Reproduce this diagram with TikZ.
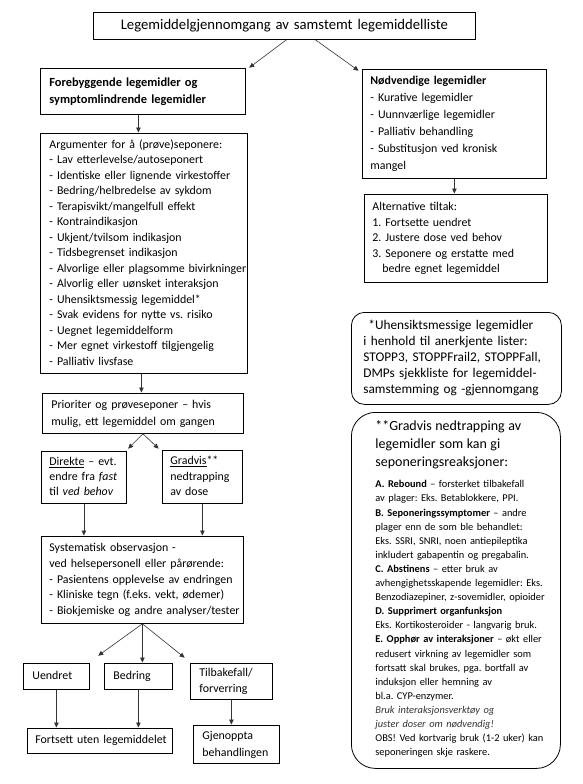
\documentclass[tikz,border=0pt]{standalone}
\usepackage{fontspec}
\setmainfont{Carlito}
\usetikzlibrary{arrows.meta}
\newcommand{\boxlines}[2]{\begin{tabular}{@{\hspace{#1pt}}l@{}}#2\end{tabular}}
\tikzset{
  bx/.style={draw, line width=0.8pt, anchor=north west, inner xsep=0pt, inner ysep=0pt, align=left},
  bodyf/.style={font=\fontsize{11.9}{#1}\selectfont},
  arr/.style={-{Triangle[length=5pt,width=4.5pt]}, line width=0.6pt, draw=black!80, shorten >=0.5pt},
}
\begin{document}
\frenchspacing
\begin{tikzpicture}[x=1pt,y=-1pt]
\fill[white] (0,0) rectangle (583,784);
\useasboundingbox (0,0) rectangle (583,784);

% left column
\node[bx, text width=382pt, minimum height=27pt, align=center, font=\fontsize{14.7}{17}\selectfont] (title) at (93,12) {Legemiddelgjennomgang av samstemt legemiddelliste};

\node[bx, text width=205pt, minimum height=46pt, font=\bfseries\fontsize{12.4}{17}\selectfont] (fore) at (40,68) {\boxlines{9}{Forebyggende legemidler og\\symptomlindrende legemidler}};

\node[bx, text width=207pt, minimum height=240pt, bodyf=15.5] (arg) at (40,133) {\boxlines{9}{Argumenter for å (prøve)seponere:\\
- Lav etterlevelse/autoseponert\\
- Identiske eller lignende virkestoffer\\
- Bedring/helbredelse av sykdom\\
- Terapisvikt/mangelfull effekt\\
- Kontraindikasjon\\
- Ukjent/tvilsom indikasjon\\
- Tidsbegrenset indikasjon\\
- Alvorlige eller plagsomme bivirkninger\\
- Alvorlig eller uønsket interaksjon\\
- Uhensiktsmessig legemiddel*\\
- Svak evidens for nytte vs. risiko\\
- Uegnet legemiddelform\\
- Mer egnet virkestoff tilgjengelig\\
- Palliativ livsfase}};

\node[bx, text width=201pt, minimum height=40pt, bodyf=17] (prio) at (42,393) {\boxlines{9}{Prioriter og prøveseponer – hvis\\mulig, ett legemiddel om gangen}};

\node[bx, text width=85pt, minimum height=52pt, bodyf=15] (dir) at (41,451) {\boxlines{8}{\underline{Direkte} – evt.\\endre fra \textit{fast}\\til \textit{ved behov}}};

\node[bx, text width=80pt, minimum height=53pt, bodyf=15.5] (grad) at (162,450) {\boxlines{8}{\underline{Gradvis}**\\nedtrapping\\av dose}};

\node[bx, text width=202pt, minimum height=87pt, bodyf=15.7] (sys) at (41,536) {\boxlines{8}{Systematisk observasjon -\\
ved helsepersonell eller pårørende:\\
- Pasientens opplevelse av endringen\\
- Kliniske tegn (f.eks. vekt, ødemer)\\
- Biokjemiske og andre analyser/tester}};

\node[bx, text width=66pt, minimum height=26pt, bodyf=15] (uend) at (23,663) {\boxlines{9}{Uendret}};
\node[bx, text width=68pt, minimum height=26pt, bodyf=15] (bed) at (104,663) {\boxlines{9}{Bedring}};
\node[bx, text width=82pt, minimum height=36pt, bodyf=16] (tilb) at (190,663) {\boxlines{9}{Tilbakefall/\\forverring}};
\node[bx, text width=145pt, minimum height=25pt, bodyf=15] (forts) at (27,728) {\boxlines{8}{Fortsett uten legemiddelet}};
\node[bx, text width=86pt, minimum height=38pt, bodyf=17] (gjen) at (193,725) {\boxlines{9}{Gjenoppta\\behandlingen}};

% right column
\node[bx, text width=184pt, minimum height=109pt, bodyf=17] (nod) at (362,69) {\boxlines{8}{\textbf{Nødvendige legemidler}\\
- Kurative legemidler\\
- Uunnværlige legemidler\\
- Palliativ behandling\\
- Substitusjon ved kronisk\\
mangel}};

\node[bx, text width=183pt, minimum height=88pt, bodyf=15.5] (alt) at (364,194) {\boxlines{8}{Alternative tiltak:\\
1. Fortsette uendret\\
2. Justere dose ved behov\\
3. Seponere og erstatte med\\
\hspace*{10pt}bedre egnet legemiddel}};

\node[bx, text width=210pt, minimum height=92pt, rounded corners=13pt, font=\fontsize{13.3}{16}\selectfont] (note1) at (351,312) {\boxlines{12}{\hspace*{5pt}*Uhensiktsmessige legemidler\\
i henhold til anerkjente lister:\\
STOPP3, STOPPFrail2, STOPPFall,\\
DMPs sjekkliste for legemiddel-\\
samstemming og -gjennomgang}};

\node[bx, text width=209pt, minimum height=356pt, rounded corners=24pt, font=\fontsize{10.4}{14.1}\selectfont] (note2) at (351,412) {\boxlines{24}{{\fontsize{14}{18}\selectfont **Gradvis nedtrapping av}\\[3.9pt]
{\fontsize{14}{18}\selectfont legemidler som kan gi}\\[3.9pt]
{\fontsize{14}{18}\selectfont seponeringsreaksjoner:}\\[6.9pt]
\textbf{A. Rebound} – forsterket tilbakefall\\
av plager: Eks. Betablokkere, PPI.\\
\textbf{B. Seponeringssymptomer} – andre\\
plager enn de som ble behandlet:\\
Eks. SSRI, SNRI, noen antiepileptika\\
inkludert gabapentin og pregabalin.\\
\textbf{C. Abstinens} – etter bruk av\\
avhengighetsskapende legemidler: Eks.\\
Benzodiazepiner, z-sovemidler, opioider\\
\textbf{D. Supprimert organfunksjon}\\
Eks. Kortikosteroider - langvarig bruk.\\
\textbf{E. Opphør av interaksjoner} – økt eller\\
redusert virkning av legemidler som\\
fortsatt skal brukes, pga. bortfall av\\
induksjon eller hemning av\\
bl.a. CYP-enzymer.\\
{\itshape\color{black!80}Bruk interaksjonsverktøy og}\\
{\itshape\color{black!80}juster doser om nødvendig!}\\
OBS! Ved kortvarig bruk (1-2 uker) kan\\
seponeringen skje raskere.}};

% connectors
\draw[arr] ([xshift=2pt]title.south) -- ([xshift=3pt]fore.north east);
\draw[arr] ([xshift=31pt]title.south) -- ([xshift=-3pt,yshift=-2pt]nod.north west);
\draw[arr] ([xshift=-4.5pt]fore.south) -- ([xshift=-5.5pt]arg.north);
\draw[arr] ([xshift=-2.5pt]arg.south) -- ([xshift=-1.5pt]prio.north);
\draw[arr] (prio.south) -- ([xshift=1pt,yshift=2pt]dir.north east);
\draw[arr] (prio.south) -- ([xshift=-3pt,yshift=1pt]grad.north west);
\draw[arr] (dir.south) -- (dir.south |- sys.north);
\draw[arr] (grad.south) -- (grad.south |- sys.north);
\draw[arr] (sys.south) -- ([xshift=8pt,yshift=7pt]uend.north east);
\draw[arr] (sys.south) -- (sys.south |- bed.north);
\draw[arr] (sys.south) -- ([xshift=-5pt,yshift=5pt]tilb.north west);
\draw[arr] (uend.south) -- (uend.south |- forts.north);
\draw[arr] (bed.south) -- (bed.south |- forts.north);
\draw[arr] (tilb.south) -- (tilb.south |- gjen.north);
\draw[arr] (nod.south) -- (nod.south |- alt.north);
\end{tikzpicture}
\end{document}
